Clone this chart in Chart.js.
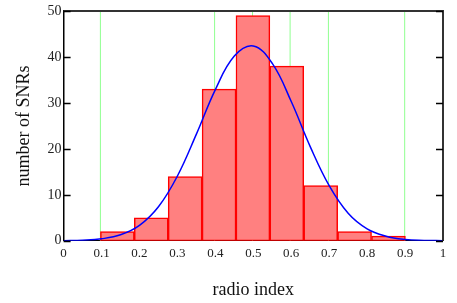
<!DOCTYPE html>
<html>
<head>
<meta charset="utf-8">
<script src="https://cdn.jsdelivr.net/npm/chart.js@4/dist/chart.umd.min.js"></script>
<style>
  html, body { margin: 0; padding: 0; background: #fff; }
  #wrap { width: 457px; height: 303px; }
</style>
</head>
<body>
<div id="wrap"><canvas id="histChart"></canvas></div>
<script>
// histogram bins (centres), counts
const binCenters = [0.1417, 0.2310, 0.3203, 0.4097, 0.4990, 0.5883, 0.6777, 0.7670, 0.8563];
const binCounts = [2, 5, 14, 33, 49, 38, 12, 2, 1];

// fitted curve
const curveX = [0, 0.05, 0.1, 0.15, 0.2, 0.25, 0.3, 0.35, 0.4, 0.45, 0.5, 0.55, 0.6, 0.65, 0.7, 0.75, 0.8, 0.85, 0.9, 0.95, 1];
const curveY = [0.03, 0.13, 0.44, 1.3, 3.35, 7.4, 14.1, 23.2, 32.9, 40.2, 42.4, 38.6, 30.3, 20.5, 12.0, 6.0, 2.6, 1.0, 0.3, 0.09, 0.02];

// green marker lines
const markerX = [0.097, 0.398, 0.498, 0.597, 0.698, 0.899];

const yTicks = [0, 10, 20, 30, 40, 50];
const serif = "'Liberation Serif', 'Times New Roman', serif";

const barPts = binCenters.map((x, i) => ({ x, y: binCounts[i] }));
const curvePts = curveX.map((x, i) => ({ x, y: curveY[i] }));
const markerPts = [];
markerX.forEach(x => { markerPts.push({ x, y: 0 }, { x, y: 50 }, { x, y: null }) });

// inward ticks on both y sides + top/right frame
const framePlugin = {
  id: 'frame',
  afterDatasetsDraw(chart) {
    const { ctx, chartArea: a, scales: { y } } = chart;
    ctx.save();
    ctx.strokeStyle = '#333'; ctx.lineWidth = 2;
    ctx.beginPath();
    ctx.moveTo(a.left, a.top); ctx.lineTo(a.right, a.top); ctx.lineTo(a.right, a.bottom);
    ctx.stroke();
    ctx.strokeStyle = '#000'; ctx.lineWidth = 1.5;
    yTicks.forEach(v => {
      const py = Math.round(y.getPixelForValue(v)) + 0.5;
      ctx.beginPath();
      ctx.moveTo(a.left, py); ctx.lineTo(a.left + 7, py);
      ctx.moveTo(a.right, py); ctx.lineTo(a.right - 7, py);
      ctx.stroke();
    });
    ctx.restore();
  }
};

new Chart(document.getElementById('histChart'), {
  data: {
    datasets: [
      { type: 'line', data: curvePts, borderColor: '#0000ff', borderWidth: 1.5, pointRadius: 0, tension: 0.4, order: 0 },
      { type: 'bar', data: barPts, backgroundColor: '#ff8080', borderColor: '#ff0000', borderWidth: 1.5, borderSkipped: false,
        barPercentage: 1, categoryPercentage: 1, order: 1 },
      { type: 'line', data: markerPts, borderColor: '#90ff90', borderWidth: 1, pointRadius: 0, spanGaps: false, order: 2 }
    ]
  },
  options: {
    responsive: true, maintainAspectRatio: false, animation: false,
    layout: { padding: { top: 11, right: 14, left: 13, bottom: 2 } },
    plugins: { legend: { display: false }, tooltip: { enabled: false } },
    scales: {
      x: {
        type: 'linear', min: 0, max: 1, offset: false,
        grid: { display: false, drawTicks: false },
        border: { display: true, color: '#000', width: 1 },
        ticks: { stepSize: 0.1, color: '#222', padding: 5, font: { family: serif, size: 13 }, callback: v => String(+v.toFixed(1)) },
        title: { display: true, text: 'radio index', color: '#111', font: { family: serif, size: 18 }, padding: { top: 13, bottom: 0 } }
      },
      y: {
        min: 0, max: 50,
        grid: { display: false, drawTicks: false },
        border: { display: true, color: '#000', width: 1.5 },
        afterBuildTicks: s => { s.ticks = yTicks.map(v => ({ value: v })) },
        ticks: { color: '#222', padding: 2, font: { family: serif, size: 14 } },
        title: { display: true, text: 'number of SNRs', color: '#111', font: { family: serif, size: 18 }, padding: { top: 0, bottom: 11 } }
      }
    }
  },
  plugins: [framePlugin]
});
</script>
</body>
</html>
